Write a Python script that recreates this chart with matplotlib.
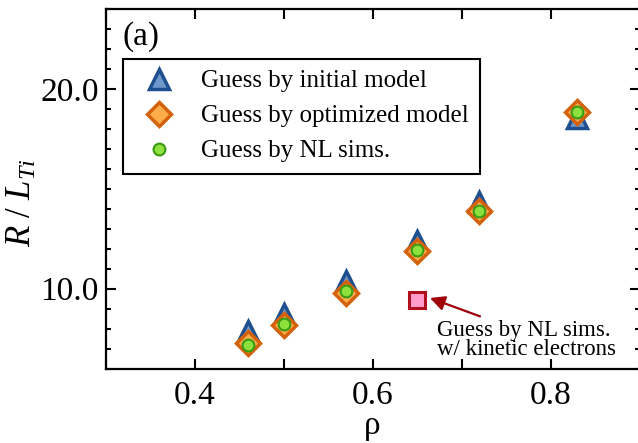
import matplotlib
matplotlib.use("Agg")
import matplotlib.pyplot as plt
from matplotlib.ticker import MultipleLocator, FormatStrFormatter

# ---- data ----
rho = [0.46, 0.50, 0.57, 0.65, 0.72, 0.83]
initial_model = [7.9, 8.75, 10.4, 12.4, 14.35, 18.55]
optimized_model = [7.3, 8.2, 9.8, 11.9, 13.9, 18.85]
nl_sims = [7.2, 8.25, 9.87, 11.92, 13.9, 18.85]
rho_kinetic = [0.65]
nl_kinetic = [9.45]

labels = ["Guess by initial model", "Guess by optimized model", "Guess by NL sims."]
annot_text = "Guess by NL sims.\nw/ kinetic electrons"

plt.rcParams['font.family'] = ['Liberation Serif', 'DejaVu Serif']
plt.rcParams['mathtext.fontset'] = 'custom'
plt.rcParams['mathtext.rm'] = 'Liberation Serif'
plt.rcParams['mathtext.it'] = 'Liberation Serif:italic'

fig = plt.figure(figsize=(6.38, 4.43), dpi=100)
ax = fig.add_axes([105.5/638, 1-368.5/443, 534/638, 359.5/443])

ax.plot(rho, initial_model, linestyle='none', marker='^', ms=15,
        mfc='#6f97cc', mec='#1f4f8f', mew=2.5, label=labels[0], zorder=3)
ax.plot(rho, optimized_model, linestyle='none', marker='D', ms=12.5,
        mfc='#ffad4a', mec='#d4620c', mew=2.5, label=labels[1], zorder=4)
ax.plot(rho, nl_sims, linestyle='none', marker='o', ms=8.5,
        mfc='#8ee03c', mec='#3a9a14', mew=1.5, label=labels[2], zorder=5)
ax.plot(rho_kinetic, nl_kinetic, linestyle='none', marker='s', ms=11.5,
        mfc='#ff9ccb', mec='#b0101e', mew=2.2, zorder=5)

ax.annotate('', xy=(0.6646, 9.53), xytext=(0.7208, 8.61),
            arrowprops=dict(arrowstyle='-|>', color='#a00008', lw=1.6,
                            mutation_scale=22, shrinkA=0, shrinkB=0))
ax.text(0.6725, 8.45, annot_text, fontsize=16.5, ha='left', va='top',
        linespacing=0.92)

ax.set_xlim(0.3, 0.9)
ax.set_ylim(6, 24)
ax.xaxis.set_major_locator(MultipleLocator(0.2))
ax.xaxis.set_minor_locator(MultipleLocator(0.1))
ax.yaxis.set_major_locator(MultipleLocator(10))
ax.yaxis.set_minor_locator(MultipleLocator(1))
ax.xaxis.set_major_formatter(FormatStrFormatter('%.1f'))
ax.yaxis.set_major_formatter(FormatStrFormatter('%.1f'))

ax.tick_params(axis='both', which='both', direction='in', top=True, right=True,
               labelsize=24, width=1.5, color='black')
ax.tick_params(axis='x', which='major', length=7.5, pad=9)
ax.tick_params(axis='x', which='minor', length=7.5)
ax.tick_params(axis='y', which='major', length=7.5, pad=5)
ax.tick_params(axis='y', which='minor', length=3.8)
for s in ax.spines.values():
    s.set_linewidth(1.6)

ax.set_xlabel('ρ', fontsize=24, labelpad=-1)
ax.set_ylabel(r'$R\ /\ L_{Ti}$', fontsize=25)
ax.yaxis.set_label_coords(-0.125, 0.461)

ax.text(0.032, 0.965, '(a)', transform=ax.transAxes, fontsize=24,
        ha='left', va='top')

leg = ax.legend(loc='upper left', bbox_to_anchor=(0.033, 0.862),
                borderaxespad=0, fontsize=18, fancybox=False, framealpha=1,
                edgecolor='black', handlelength=2.0, handletextpad=0.65,
                borderpad=0.45, labelspacing=0.5, numpoints=1)
leg.get_frame().set_linewidth(1.5)

fig.savefig('out.png', dpi=100)
